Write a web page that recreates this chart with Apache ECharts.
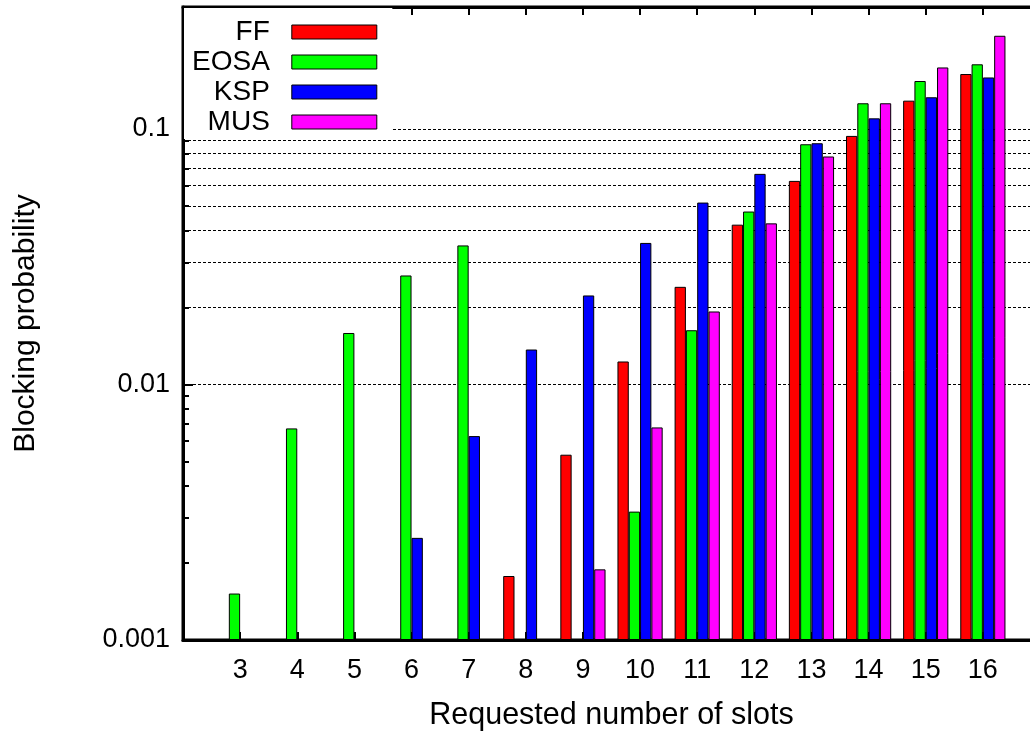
<!DOCTYPE html>
<html>
<head>
<meta charset="utf-8">
<title>Blocking probability</title>
<script src="https://cdn.jsdelivr.net/npm/echarts@6/dist/echarts.min.js"></script>
<style>
  html, body { margin: 0; padding: 0; background: #fff; }
  #chart { width: 1030px; height: 736px; }
</style>
</head>
<body>
<div id="chart"></div>
<script>
// Requested number of slots
const categories = ['3', '4', '5', '6', '7', '8', '9', '10', '11', '12', '13', '14', '15', '16'];

// Blocking probability per algorithm (null = no blocking observed)
const ffValues   = [null, null, null, null, null, 0.00178, 0.00531, 0.0123, 0.0241, 0.0422, 0.0626, 0.0939, 0.129, 0.164];
const eosaValues = [0.00152, 0.00673, 0.0159, 0.0267, 0.035, null, null, 0.00318, 0.0163, 0.0475, 0.0871, 0.126, 0.154, 0.179];
const kspValues  = [null, null, null, 0.00251, 0.00628, 0.0137, 0.0223, 0.0358, 0.0515, 0.0667, 0.0879, 0.110, 0.133, 0.159];
const musValues  = [null, null, null, null, null, null, 0.00189, 0.00679, 0.0193, 0.0427, 0.078, 0.126, 0.174, 0.2315];

// Log axis labels, dotted grid levels and minor tick levels
const yTickValues = [0.001, 0.01, 0.1];
const yTickLabels = ['0.001', '0.01', '0.1'];
const gridLevels = [0.002, 0.003, 0.004, 0.005, 0.006, 0.007, 0.008, 0.009, 0.01,
                    0.02, 0.03, 0.04, 0.05, 0.06, 0.07, 0.08, 0.09, 0.1];
const minorLevels = [0.002, 0.003, 0.004, 0.005, 0.006, 0.007, 0.008, 0.009,
                     0.02, 0.03, 0.04, 0.05, 0.06, 0.07, 0.08, 0.09];

const FONT = '"Liberation Sans", Arial, Helvetica, sans-serif';
const PLOT_LEFT = 183;

// One empty slot on each side of the categories leaves a full step of margin
const axisData = [''].concat(categories, ['']);
const pad = arr => [null].concat(arr, [null]);

const chart = echarts.init(document.getElementById('chart'), null, { renderer: 'canvas' });

const barStyle = color => ({ color: color, borderColor: '#000', borderWidth: 1 });

const seriesDefs = [
  { name: 'FF',   data: ffValues,   color: '#ff0000' },
  { name: 'EOSA', data: eosaValues, color: '#00ff00' },
  { name: 'KSP',  data: kspValues,  color: '#0000ff' },
  { name: 'MUS',  data: musValues,  color: '#ff00ff' }
];

const series = seriesDefs.map((s, i) => {
  const item = {
    name: s.name,
    type: 'bar',
    xAxisIndex: 0,
    yAxisIndex: 0,
    data: pad(s.data),
    barWidth: 11.3,
    barGap: '0%',
    itemStyle: barStyle(s.color),
    emphasis: { disabled: true },
    animation: false,
    z: 2
  };
  if (i === 0) {
    // dotted horizontal grid, kept behind the bars
    item.markLine = {
      silent: true,
      symbol: 'none',
      z: 1,
      animation: false,
      label: { show: false },
      lineStyle: { color: '#000', width: 1, type: [3, 2] },
      data: gridLevels.map(v => ({ yAxis: v }))
    };
  }
  if (i === 1) {
    // short minor ticks on the left axis
    item.markLine = {
      silent: true,
      symbol: 'none',
      z: 6,
      animation: false,
      label: { show: false },
      lineStyle: { color: '#000', width: 2, type: 'solid' },
      data: minorLevels.map(v => [{ x: PLOT_LEFT, yAxis: v }, { x: PLOT_LEFT + 6, yAxis: v }])
    };
  }
  return item;
});

const option = {
  backgroundColor: '#fff',
  animation: false,
  textStyle: { fontFamily: FONT, color: '#000' },
  // the plot frame runs a little past the right edge of the canvas
  grid: { left: PLOT_LEFT, top: 7, width: 857, height: 633, containLabel: false, outerBoundsMode: 'none',
          show: true, borderColor: '#000', borderWidth: 3, backgroundColor: 'transparent' },
  legend: {
    orient: 'vertical',
    left: 184,
    top: 8,
    align: 'right',
    icon: 'rect',
    itemWidth: 85,
    itemHeight: 14,
    itemGap: 0,
    padding: [9, 15, 2, 8],
    backgroundColor: '#fff',
    selectedMode: false,
    itemStyle: { borderColor: '#000', borderWidth: 1 },
    textStyle: { fontFamily: FONT, fontSize: 28, lineHeight: 30, color: '#000', padding: [0, 17, 0, 0] },
    data: seriesDefs.map(s => s.name)
  },
  xAxis: [
    {
      type: 'category',
      position: 'bottom',
      data: axisData,
      boundaryGap: false,
      name: 'Requested number of slots',
      nameLocation: 'middle',
      nameGap: 60,
      nameTextStyle: { fontFamily: FONT, fontSize: 30.5, color: '#000' },
      axisLine: { show: true, lineStyle: { color: '#000', width: 3 } },
      axisTick: { show: true, inside: true, length: 8, lineStyle: { color: '#000', width: 2 } },
      axisLabel: { interval: 0, margin: 17, fontFamily: FONT, fontSize: 27, color: '#000' },
      splitLine: { show: false }
    },
    {
      type: 'category',
      position: 'top',
      data: axisData,
      boundaryGap: false,
      axisLine: { show: true, lineStyle: { color: '#000', width: 3 } },
      axisTick: { show: true, inside: true, length: 8, lineStyle: { color: '#000', width: 2 } },
      axisLabel: { show: false },
      splitLine: { show: false }
    }
  ],
  yAxis: {
    type: 'log',
    logBase: 10,
    min: 0.001,
    max: 0.3,
    startValue: 0.001,
    name: 'Blocking probability',
    nameLocation: 'middle',
    nameGap: 142,
    nameTextStyle: { fontFamily: FONT, fontSize: 30, color: '#000' },
    axisLine: { show: true, lineStyle: { color: '#000', width: 3 } },
    axisTick: { show: true, inside: true, length: 10, lineStyle: { color: '#000', width: 2 } },
    axisLabel: {
      margin: 13,
      fontFamily: FONT,
      fontSize: 27,
      color: '#000',
      showMaxLabel: false,
      formatter: function (value) {
        for (let i = 0; i < yTickValues.length; i++) {
          if (Math.abs(Math.log10(value) - Math.log10(yTickValues[i])) < 1e-6) {
            return yTickLabels[i];
          }
        }
        return '';
      }
    },
    splitLine: { show: false },
    minorTick: { show: false }
  },
  series: series
};

chart.setOption(option);
</script>
</body>
</html>
